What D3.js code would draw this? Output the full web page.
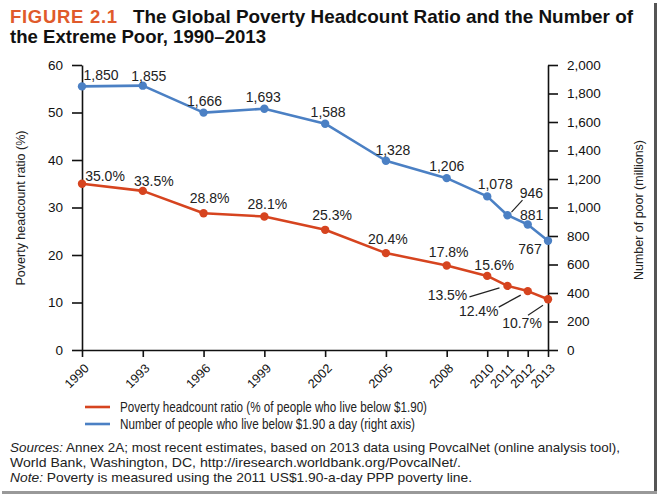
<!DOCTYPE html>
<html>
<head>
<meta charset="utf-8">
<script src="https://cdn.jsdelivr.net/npm/d3@7"></script>
<style>
    body { margin: 0; background: #fff; }
    svg { display: block; font-family: "Liberation Sans", Arial, sans-serif; }
    .axis path, .axis line { stroke: #111; stroke-width: 1.6; }
</style>
</head>
<body>
<div id="chart"></div>
<script>
// Data
const years = [1990, 1993, 1996, 1999, 2002, 2005, 2008, 2010, 2011, 2012, 2013];
const headcountRatio = [35.0, 33.5, 28.8, 28.1, 25.3, 20.4, 17.8, 15.6, 13.5, 12.4, 10.7];
const poorMillions = [1850, 1855, 1666, 1693, 1588, 1328, 1206, 1078, 946, 881, 767];
const leftTicks = [0, 10, 20, 30, 40, 50, 60];
const rightTicks = [0, 200, 400, 600, 800, 1000, 1200, 1400, 1600, 1800, 2000];
const seriesNames = [
    'Poverty headcount ratio (% of people who live below $1.90)',
    'Number of people who live below $1.90 a day (right axis)',
];

const red = '#d6441f';
const blue = '#4b80c4';

// label centre offsets (dx, dy) from each point, plus optional leader lines
const ratioLabelPos = [
    [23, -8], [11, -10], [6, -15], [3, -12.5], [7, -15], [2, -14], [2, -13.5], [7, -11],
    [-60, 9], [-49, 20], [-26, 24],
];
const ratioLeaders = [null, null, null, null, null, null, null, null,
    [-38, 11, -8, 2], [-29, 16, -7, 4], [-20, 16, -5, 6]];
const poorLabelPos = [
    [19, -11], [6, -10], [1, -11], [-1, -12], [3, -12], [7, -11], [0, -12], [8, -12],
    [24, -22], [4, -9], [-18, 8],
];
const poorLeaders = [null, null, null, null, null, null, null, null,
    [4, -3, 15, -15], null, null];

// Dimensions
const dimensions = {
    width: 659,
    height: 496,
    margin: { top: 65, left: 82 },
    ctrWidth: 466,
    ctrHeight: 285,
};

const svg = d3.select('#chart')
    .append('svg')
    .attr('width', dimensions.width)
    .attr('height', dimensions.height);

// frame shadow
svg.append('rect')
    .attr('x', 654).attr('y', 3).attr('width', 3).attr('height', 491)
    .attr('fill', '#555');
svg.append('rect')
    .attr('x', 2).attr('y', 491).attr('width', 655).attr('height', 3)
    .attr('fill', '#999');

// Title
const title = svg.append('g').attr('font-weight', 'bold').attr('font-size', 18.5);
title.append('text').attr('x', 10).attr('y', 22.5)
    .attr('fill', '#e05a2b')
    .attr('textLength', 107).attr('lengthAdjust', 'spacing')
    .text('FIGURE 2.1');
title.append('text').attr('x', 133).attr('y', 22.5)
    .attr('fill', '#111')
    .attr('textLength', 500).attr('lengthAdjust', 'spacingAndGlyphs')
    .text('The Global Poverty Headcount Ratio and the Number of');
title.append('text').attr('x', 10).attr('y', 42.5).attr('fill', '#111')
    .attr('textLength', 256).attr('lengthAdjust', 'spacingAndGlyphs')
    .text('the Extreme Poor, 1990\u20132013');

const ctr = svg.append('g')
    .attr('transform', `translate(${dimensions.margin.left}, ${dimensions.margin.top})`);

// Scales
const xScale = d3.scaleLinear()
    .domain([1990, 2013])
    .range([0, dimensions.ctrWidth]);
const yLeft = d3.scaleLinear()
    .domain([0, 60])
    .range([dimensions.ctrHeight, 0]);
const yRight = d3.scaleLinear()
    .domain([0, 2000])
    .range([dimensions.ctrHeight, 0]);

// Axes
const xAxisGroup = ctr.append('g')
    .attr('class', 'axis')
    .attr('transform', `translate(0, ${dimensions.ctrHeight})`)
    .call(d3.axisBottom(xScale).tickValues(years).tickFormat(d3.format('d')).tickSize(7).tickSizeOuter(0));
xAxisGroup.selectAll('text')
    .attr('text-anchor', 'end')
    .attr('transform', 'translate(4, 16) rotate(-45)')
    .attr('dy', '0.35em')
    .attr('y', 0)
    .attr('x', 0)
    .attr('font-size', 12.5)
    .attr('fill', '#111')
    .attr('textLength', 28)
    .attr('lengthAdjust', 'spacingAndGlyphs');

ctr.append('g')
    .attr('class', 'axis')
    .call(d3.axisLeft(yLeft).tickValues(leftTicks).tickSize(10).tickSizeOuter(0))
    .call(g => g.selectAll('text').attr('x', -19).attr('font-size', 13.5).attr('fill', '#111'));

ctr.append('g')
    .attr('class', 'axis')
    .attr('transform', `translate(${dimensions.ctrWidth}, 0)`)
    .call(d3.axisRight(yRight).tickValues(rightTicks).tickFormat(d3.format(',')).tickSize(10).tickSizeOuter(0))
    .call(g => g.selectAll('text').attr('x', 19).attr('font-size', 13.5).attr('fill', '#111'));

// Axis titles
svg.append('text')
    .attr('transform', `translate(20, ${dimensions.margin.top + 143}) rotate(-90)`)
    .attr('text-anchor', 'middle')
    .attr('dy', '0.35em')
    .attr('font-size', 13.5)
    .attr('fill', '#222')
    .attr('textLength', 155)
    .attr('lengthAdjust', 'spacingAndGlyphs')
    .text('Poverty headcount ratio (%)');
svg.append('text')
    .attr('transform', `translate(638, ${dimensions.margin.top + 145}) rotate(-90)`)
    .attr('text-anchor', 'middle')
    .attr('dy', '0.35em')
    .attr('font-size', 13.5)
    .attr('fill', '#222')
    .attr('textLength', 140)
    .attr('lengthAdjust', 'spacingAndGlyphs')
    .text('Number of poor (millions)');

// Lines
const series = [
    { values: headcountRatio, scale: yLeft, color: red, fmt: d => d.toFixed(1) + '%', pos: ratioLabelPos, leaders: ratioLeaders },
    { values: poorMillions, scale: yRight, color: blue, fmt: d3.format(','), pos: poorLabelPos, leaders: poorLeaders },
];

series.forEach(s => {
    const pts = years.map((y, i) => ({ year: y, value: s.values[i], i }));
    const line = d3.line()
        .x(d => xScale(d.year))
        .y(d => s.scale(d.value));

    ctr.append('path')
        .datum(pts)
        .attr('d', line)
        .attr('fill', 'none')
        .attr('stroke', s.color)
        .attr('stroke-width', 2.6)
        .attr('stroke-linejoin', 'round');

    ctr.append('g')
        .selectAll('circle')
        .data(pts)
        .join('circle')
        .attr('cx', d => xScale(d.year))
        .attr('cy', d => s.scale(d.value))
        .attr('r', 4.2)
        .attr('fill', s.color);

    ctr.append('g')
        .selectAll('text')
        .data(pts)
        .join('text')
        .attr('x', d => xScale(d.year) + s.pos[d.i][0])
        .attr('y', d => s.scale(d.value) + s.pos[d.i][1])
        .attr('dy', '0.35em')
        .attr('text-anchor', 'middle')
        .attr('font-size', 14)
        .attr('fill', '#222')
        .text(d => s.fmt(d.value));

    ctr.append('g')
        .selectAll('line')
        .data(pts.filter(d => s.leaders[d.i]))
        .join('line')
        .attr('x1', d => xScale(d.year) + s.leaders[d.i][0])
        .attr('y1', d => s.scale(d.value) + s.leaders[d.i][1])
        .attr('x2', d => xScale(d.year) + s.leaders[d.i][2])
        .attr('y2', d => s.scale(d.value) + s.leaders[d.i][3])
        .attr('stroke', '#222')
        .attr('stroke-width', 1.2);
});

// Legend
const legend = svg.append('g').attr('transform', 'translate(85, 407)');
[red, blue].forEach((c, i) => {
    legend.append('line')
        .attr('x1', 0).attr('x2', 25)
        .attr('y1', i * 17).attr('y2', i * 17)
        .attr('stroke', c).attr('stroke-width', 2.6);
    legend.append('text')
        .attr('x', 35).attr('y', i * 17)
        .attr('dy', '0.35em')
        .attr('font-size', 14)
        .attr('fill', '#222')
        .attr('textLength', i === 0 ? 307 : 295)
        .attr('lengthAdjust', 'spacingAndGlyphs')
        .text(seriesNames[i]);
});

// Sources / note
const notes = svg.append('g').attr('font-size', 13).attr('fill', '#222');
const n1 = notes.append('text').attr('x', 10).attr('y', 452)
    .attr('textLength', 610).attr('lengthAdjust', 'spacingAndGlyphs');
n1.append('tspan').attr('font-style', 'italic').text('Sources:');
n1.append('tspan').text(' Annex 2A; most recent estimates, based on 2013 data using PovcalNet (online analysis tool),');
notes.append('text').attr('x', 10).attr('y', 467)
    .attr('textLength', 451).attr('lengthAdjust', 'spacingAndGlyphs')
    .text('World Bank, Washington, DC, http://iresearch.worldbank.org/PovcalNet/.');
const n3 = notes.append('text').attr('x', 10).attr('y', 482)
    .attr('textLength', 462).attr('lengthAdjust', 'spacingAndGlyphs');
n3.append('tspan').attr('font-style', 'italic').text('Note:');
n3.append('tspan').text(' Poverty is measured using the 2011 US$1.90-a-day PPP poverty line.');
</script>
</body>
</html>
